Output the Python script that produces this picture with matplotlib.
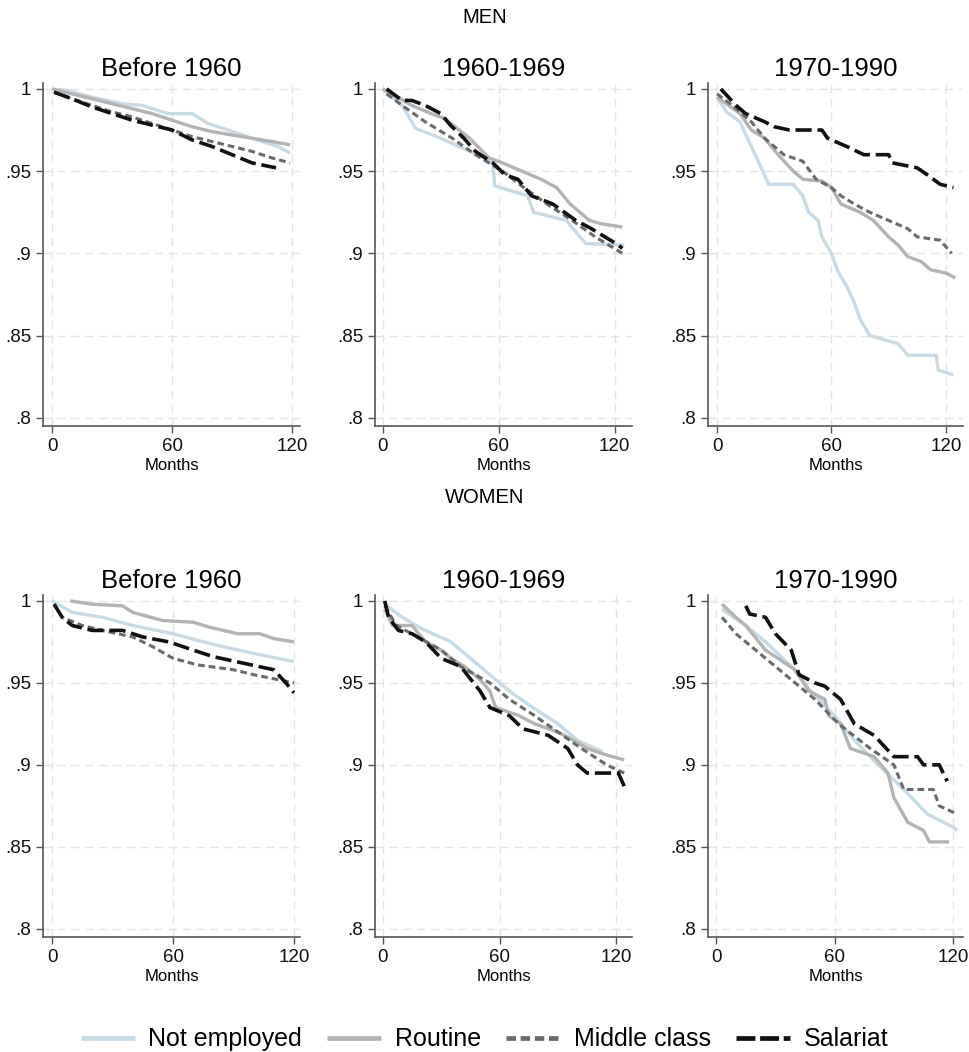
import numpy as np
import matplotlib
matplotlib.use("Agg")
from matplotlib import pyplot as plt

plt.rcParams['font.family'] = ['Liberation Sans', 'DejaVu Sans']

# ---- data: (months, survival) ----
groups = ["Not employed", "Routine", "Middle class", "Salariat"]
periods = ["Before 1960", "1960-1969", "1970-1990"]

# MEN
men_b60_ne_x = [0, 8, 20, 35, 45, 58, 70, 78, 88, 100, 113, 119]
men_b60_ne_y = [1.0, 0.999, 0.995, 0.991, 0.990, 0.985, 0.985, 0.979, 0.975, 0.970, 0.965, 0.961]
men_b60_ro_x = [0, 10, 20, 30, 40, 50, 60, 70, 80, 90, 100, 110, 119]
men_b60_ro_y = [1.0, 0.997, 0.994, 0.991, 0.988, 0.985, 0.981, 0.977, 0.974, 0.972, 0.970, 0.968, 0.966]
men_b60_mc_x = [1, 10, 20, 30, 40, 50, 60, 70, 80, 90, 100, 110, 119]
men_b60_mc_y = [0.998, 0.994, 0.990, 0.986, 0.983, 0.979, 0.975, 0.971, 0.968, 0.965, 0.962, 0.958, 0.955]
men_b60_sa_x = [1, 10, 20, 30, 40, 50, 60, 70, 80, 90, 100, 112]
men_b60_sa_y = [0.998, 0.994, 0.989, 0.985, 0.981, 0.978, 0.975, 0.969, 0.965, 0.960, 0.955, 0.952]

men_60s_ne_x = [0, 10, 17, 30, 45, 57, 58, 75, 78, 95, 105, 125]
men_60s_ne_y = [1.0, 0.990, 0.976, 0.970, 0.962, 0.955, 0.941, 0.935, 0.925, 0.920, 0.906, 0.905]
men_60s_ro_x = [0, 15, 25, 32, 45, 55, 62, 72, 82, 90, 97, 107, 113, 124]
men_60s_ro_y = [1.0, 0.990, 0.985, 0.982, 0.970, 0.958, 0.955, 0.950, 0.945, 0.940, 0.930, 0.920, 0.918, 0.916]
men_60s_mc_x = [2, 10, 22, 36, 48, 62, 73, 85, 98, 110, 124]
men_60s_mc_y = [0.997, 0.990, 0.980, 0.970, 0.960, 0.950, 0.940, 0.930, 0.920, 0.910, 0.900]
men_60s_sa_x = [2, 10, 15, 22, 30, 35, 42, 48, 57, 63, 70, 77, 88, 100, 108, 122, 124]
men_60s_sa_y = [1.0, 0.993, 0.993, 0.990, 0.985, 0.978, 0.970, 0.962, 0.955, 0.948, 0.945, 0.935, 0.930, 0.920, 0.915, 0.905, 0.903]

men_70s_ne_x = [0, 5, 12, 16, 20, 24, 27, 40, 45, 48, 53, 55, 60, 63, 68, 72, 75, 80, 95, 100, 115, 116, 124]
men_70s_ne_y = [0.995, 0.986, 0.980, 0.970, 0.960, 0.950, 0.942, 0.942, 0.935, 0.925, 0.920, 0.910, 0.900, 0.890, 0.880, 0.870, 0.860, 0.850, 0.845, 0.838, 0.838, 0.829, 0.826]
men_70s_ro_x = [0, 12, 18, 25, 32, 40, 45, 55, 60, 65, 75, 82, 90, 95, 100, 107, 112, 120, 125]
men_70s_ro_y = [0.995, 0.985, 0.975, 0.970, 0.960, 0.950, 0.945, 0.944, 0.940, 0.930, 0.925, 0.920, 0.910, 0.905, 0.898, 0.895, 0.890, 0.888, 0.885]
men_70s_mc_x = [0, 8, 18, 25, 35, 45, 52, 60, 65, 72, 80, 90, 100, 105, 117, 123]
men_70s_mc_y = [0.997, 0.990, 0.980, 0.970, 0.960, 0.956, 0.945, 0.940, 0.935, 0.930, 0.925, 0.920, 0.915, 0.910, 0.908, 0.900]
men_70s_sa_x = [2, 10, 15, 25, 30, 38, 55, 58, 68, 77, 90, 92, 105, 110, 117, 124]
men_70s_sa_y = [1.0, 0.990, 0.985, 0.980, 0.977, 0.975, 0.975, 0.970, 0.965, 0.960, 0.960, 0.955, 0.952, 0.948, 0.942, 0.940]

# WOMEN
wom_b60_ne_x = [0, 10, 25, 40, 60, 72, 85, 100, 120]
wom_b60_ne_y = [1.0, 0.993, 0.990, 0.985, 0.980, 0.976, 0.972, 0.968, 0.963]
wom_b60_ro_x = [9, 20, 35, 40, 55, 70, 78, 92, 103, 110, 120]
wom_b60_ro_y = [1.0, 0.998, 0.997, 0.993, 0.988, 0.987, 0.984, 0.980, 0.980, 0.977, 0.975]
wom_b60_mc_x = [1, 5, 15, 25, 40, 50, 60, 72, 90, 100, 120]
wom_b60_mc_y = [0.998, 0.990, 0.985, 0.982, 0.978, 0.972, 0.965, 0.961, 0.958, 0.955, 0.950]
wom_b60_sa_x = [1, 5, 10, 20, 35, 45, 58, 70, 80, 95, 110, 116, 120]
wom_b60_sa_y = [0.998, 0.990, 0.985, 0.982, 0.982, 0.978, 0.975, 0.970, 0.966, 0.962, 0.958, 0.950, 0.944]

wom_60s_ne_x = [1, 10, 20, 35, 45, 55, 65, 77, 90, 100, 113]
wom_60s_ne_y = [0.998, 0.990, 0.983, 0.975, 0.965, 0.955, 0.945, 0.935, 0.925, 0.915, 0.908]
wom_60s_ro_x = [1, 5, 15, 22, 30, 35, 42, 50, 55, 58, 70, 78, 90, 98, 105, 115, 124]
wom_60s_ro_y = [0.995, 0.985, 0.985, 0.975, 0.970, 0.965, 0.960, 0.952, 0.945, 0.935, 0.930, 0.925, 0.920, 0.915, 0.910, 0.906, 0.903]
wom_60s_mc_x = [1, 7, 18, 30, 40, 55, 65, 78, 90, 102, 115, 124]
wom_60s_mc_y = [0.997, 0.985, 0.978, 0.970, 0.960, 0.950, 0.940, 0.930, 0.920, 0.910, 0.900, 0.895]
wom_60s_sa_x = [1, 3, 8, 15, 22, 30, 40, 50, 55, 65, 72, 85, 95, 100, 105, 121, 124]
wom_60s_sa_y = [1.0, 0.990, 0.982, 0.980, 0.975, 0.965, 0.960, 0.945, 0.935, 0.930, 0.922, 0.918, 0.910, 0.900, 0.895, 0.895, 0.887]

wom_70s_ne_x = [3, 15, 25, 38, 48, 60, 70, 82, 95, 107, 120, 122]
wom_70s_ne_y = [0.995, 0.985, 0.975, 0.960, 0.945, 0.930, 0.915, 0.900, 0.885, 0.870, 0.862, 0.860]
wom_70s_ro_x = [3, 10, 15, 25, 35, 40, 47, 55, 57, 63, 68, 80, 87, 90, 97, 105, 108, 118]
wom_70s_ro_y = [0.998, 0.990, 0.985, 0.970, 0.962, 0.958, 0.945, 0.940, 0.930, 0.925, 0.910, 0.905, 0.895, 0.880, 0.865, 0.860, 0.853, 0.853]
wom_70s_mc_x = [3, 10, 20, 35, 50, 62, 78, 90, 95, 110, 113, 122]
wom_70s_mc_y = [0.990, 0.980, 0.970, 0.955, 0.940, 0.925, 0.910, 0.900, 0.885, 0.885, 0.875, 0.870]
wom_70s_sa_x = [15, 17, 25, 30, 38, 42, 50, 55, 63, 70, 80, 90, 102, 105, 113, 117]
wom_70s_sa_y = [0.997, 0.992, 0.990, 0.980, 0.970, 0.955, 0.950, 0.948, 0.940, 0.925, 0.918, 0.905, 0.905, 0.900, 0.900, 0.890]

men = [
    [(men_b60_ne_x, men_b60_ne_y), (men_b60_ro_x, men_b60_ro_y), (men_b60_mc_x, men_b60_mc_y), (men_b60_sa_x, men_b60_sa_y)],
    [(men_60s_ne_x, men_60s_ne_y), (men_60s_ro_x, men_60s_ro_y), (men_60s_mc_x, men_60s_mc_y), (men_60s_sa_x, men_60s_sa_y)],
    [(men_70s_ne_x, men_70s_ne_y), (men_70s_ro_x, men_70s_ro_y), (men_70s_mc_x, men_70s_mc_y), (men_70s_sa_x, men_70s_sa_y)],
]
women = [
    [(wom_b60_ne_x, wom_b60_ne_y), (wom_b60_ro_x, wom_b60_ro_y), (wom_b60_mc_x, wom_b60_mc_y), (wom_b60_sa_x, wom_b60_sa_y)],
    [(wom_60s_ne_x, wom_60s_ne_y), (wom_60s_ro_x, wom_60s_ro_y), (wom_60s_mc_x, wom_60s_mc_y), (wom_60s_sa_x, wom_60s_sa_y)],
    [(wom_70s_ne_x, wom_70s_ne_y), (wom_70s_ro_x, wom_70s_ro_y), (wom_70s_mc_x, wom_70s_mc_y), (wom_70s_sa_x, wom_70s_sa_y)],
]

yticks = [0.8, 0.85, 0.9, 0.95, 1.0]
ytick_labels = [".8", ".85", ".9", ".95", "1"]
xticks = [0, 60, 120]

# ---- styling ----
styles = [
    dict(color="#c8dae6", lw=2.4, ls="-"),
    dict(color="#b3b3b3", lw=2.4, ls="-"),
    dict(color="#6a6a6a", lw=2.2, ls=(0, (2.2, 1.3))),
    dict(color="#111111", lw=2.6, ls=(0, (4.5, 1.6))),
]
legend_ls = ["-", "-", (0, (2.0, 1.0)), (0, (4.0, 1.0))]

fig = plt.figure(figsize=(9.69, 10.52), dpi=100)

col_x = [(0.0444, 0.2652), (0.387, 0.2652), (0.7307, 0.2631)]
xlims_top = [(-4.5, 124), (-4, 129), (-4.7, 129)]
xlims_bot = [(-4.5, 123), (-4, 128), (-4.1, 125)]
rows = [(0.5951, 0.326, men, xlims_top), (0.1093, 0.3251, women, xlims_bot)]

for bottom, height, data, xlims in rows:
    for j in range(3):
        ax = fig.add_axes([col_x[j][0], bottom, col_x[j][1], height])
        for (x, y), st in zip(data[j], styles):
            ax.plot(x, y, color=st["color"], lw=st["lw"], ls=st["ls"],
                    solid_capstyle="butt", dash_capstyle="butt")
        ax.set_xlim(*xlims[j])
        ax.set_ylim(0.795, 1.0036)
        ax.set_yticks(yticks)
        ax.set_yticklabels(ytick_labels)
        ax.set_xticks(xticks)
        ax.grid(True, color="#e4e4e4", ls=(0, (6, 4)), lw=1.0)
        ax.set_axisbelow(True)
        for s in ["top", "right"]:
            ax.spines[s].set_visible(False)
        for s in ["left", "bottom"]:
            ax.spines[s].set_color("#555555")
            ax.spines[s].set_linewidth(1.2)
        ax.tick_params(colors="#555555", labelcolor="#111111", labelsize=13.5, length=5, width=1.0)
        ax.set_xlabel("Months", fontsize=12, labelpad=2)
        ax.set_title(periods[j], fontsize=18.5, pad=5)

fig.text(0.5, 0.983, "MEN", ha="center", va="center", fontsize=14.5)
fig.text(0.5, 0.527, "WOMEN", ha="center", va="center", fontsize=14.5)

handles = [plt.Line2D([], [], color=st["color"], lw=3.4, ls=ls, solid_capstyle="butt", dash_capstyle="butt")
           for st, ls in zip(styles, legend_ls)]
fig.legend(handles, groups, loc="center", bbox_to_anchor=(0.5, 0.012), ncol=4,
           frameon=False, fontsize=18, handlelength=2.15, columnspacing=1.0, handletextpad=0.56)

plt.savefig("out.png", dpi=100)
